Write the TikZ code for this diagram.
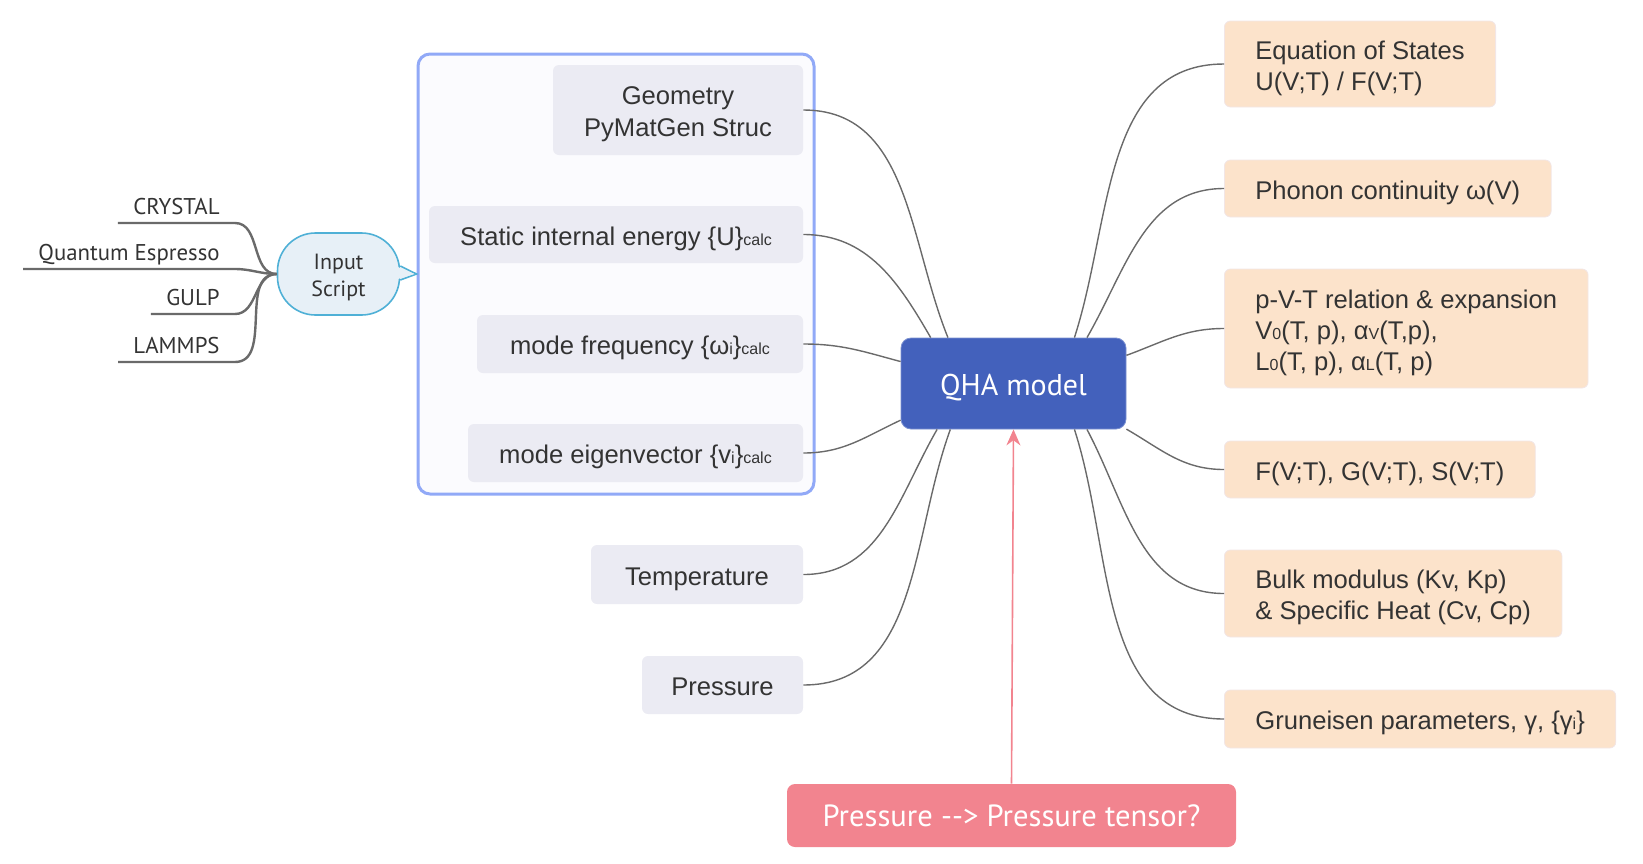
\documentclass[tikz,border=0pt]{standalone}
\usepackage{fontspec}
\setmainfont{Liberation Sans}
\newfontfamily\ptsans{PT Sans}
\usepackage{xcolor}
\usetikzlibrary{arrows.meta}

\definecolor{inkgray}{HTML}{333333}
\definecolor{linkgray}{HTML}{6A6A6A}
\definecolor{boxgray}{HTML}{EBEBF3}
\definecolor{grpfill}{HTML}{FBFBFE}
\definecolor{grpline}{HTML}{91A9F7}
\definecolor{qhablue}{HTML}{4361BC}
\definecolor{alertpink}{HTML}{F2848F}
\definecolor{peach}{HTML}{FCE3CB}
\definecolor{peachline}{HTML}{F2E6E6}
\definecolor{bubfill}{HTML}{E7F0F7}
\definecolor{bubline}{HTML}{4FB0D6}

\newcommand{\smallsub}[1]{{\fontsize{8pt}{8pt}\selectfont #1}}

\begin{document}
\begin{tikzpicture}[
    x=0.5pt, y=-0.5pt,
    group/.style={rectangle, draw=grpline, fill=grpfill, line width=1.5pt,
                  rounded corners=6pt, minimum width=198pt, minimum height=220pt},
    input/.style={rectangle, fill=boxgray, rounded corners=3pt,
                  execute at begin node={\rule[-3pt]{0pt}{16.5pt}},
                  align=center, text=inkgray, font=\fontsize{12.8pt}{16pt}\selectfont},
    result/.style={rectangle, fill=peach, draw=peachline, rounded corners=3pt,
                   anchor=west, align=left, inner xsep=15.5pt, text=inkgray,
                   execute at begin node={\rule[-3pt]{0pt}{16.5pt}},
                   font=\fontsize{12.8pt}{15.5pt}\selectfont},
    multi/.style={execute at begin node={}, text height=#1, text depth=3pt},
    multi/.default=29pt,
    model/.style={rectangle, fill=qhablue, draw=qhablue!70!white, rounded corners=5pt,
                  text=white, font=\ptsans\fontsize{15pt}{18pt}\selectfont,
                  text height=14.8pt, text depth=3pt,
                  minimum width=112.5pt, minimum height=45.5pt},
    note/.style={rectangle, fill=alertpink, rounded corners=4pt, text=white,
                 font=\ptsans\fontsize{15.3pt}{18pt}\selectfont,
                 minimum width=224.5pt, minimum height=31.5pt},
    bubble/.style={rectangle, draw=bubline, fill=bubfill, line width=0.8pt,
                   rounded corners=19pt, minimum width=61pt, minimum height=41pt,
                   text height=24.6pt, text depth=2.5pt,
                   align=center, text=inkgray, font=\ptsans\fontsize{11pt}{13.3pt}\selectfont},
    leaf/.style={anchor=south east, inner xsep=7.5pt, inner ysep=2pt, text depth=2pt,
                 text=inkgray, font=\ptsans\fontsize{11.4pt}{13pt}\selectfont},
    link/.style={draw=linkgray, line width=0.7pt},
    leafline/.style={draw=linkgray, line width=1.2pt},
    arrow/.style={draw=alertpink, line width=0.8pt, -{Stealth[length=8pt, width=7pt]}}
]
    \useasboundingbox (0,0) rectangle (1643,863);

    \node[group] (calc) at (616,274) {};

    \node[input, multi=29.5pt, minimum width=125pt, minimum height=45pt] (geom) at (678,110)
        {Geometry\\PyMatGen Struc};
    \node[input, minimum width=187pt, minimum height=28.5pt] (energy) at (616,234.5)
        {Static internal energy \{U\}\smallsub{calc}};
    \node[input, minimum width=163pt, minimum height=29pt] (freq) at (640,344)
        {mode frequency \{ω\smallsub{i}\}\smallsub{calc}};
    \node[input, minimum width=167.5pt, minimum height=29pt] (eigvec) at (635.5,453)
        {mode eigenvector \{v\smallsub{i}\}\smallsub{calc}};
    \node[input, minimum width=106pt, minimum height=29.5pt] (temp) at (697,574.5)
        {Temperature};
    \node[input, minimum width=80.5pt, minimum height=29pt] (press) at (722.5,685)
        {Pressure};

    \node[model] (qha) at (1013.5,383.5) {QHA model};
    \node[note] (tensor) at (1011.5,815.5) {Pressure --> Pressure tensor?};

    \node[result, multi, minimum height=43pt] (eos) at (1224,64)
        {Equation of States\\U(V;T) / F(V;T)};
    \node[result, minimum height=28.5pt] (phonon) at (1224,188.5)
        {Phonon continuity ω(V)};
    \node[result, multi=44.5pt, minimum height=59.5pt] (pvt) at (1224,328.5)
        {p-V-T relation \& expansion\\V\smallsub{0}(T, p), α\smallsub{V}(T,p),\\L\smallsub{0}(T, p), α\smallsub{L}(T, p)};
    \node[result, minimum height=28.5pt] (free) at (1224,469.5)
        {F(V;T), G(V;T), S(V;T)};
    \node[result, multi, minimum height=43.5pt] (bulk) at (1224,593.5)
        {Bulk modulus (Kv, Kp)\\\& Specific Heat (Cv, Cp)};
    \node[result, minimum height=29pt] (grun) at (1224,719)
        {Gruneisen parameters, γ, \{γ\smallsub{i}\}};

    \node[bubble] (script) at (338.5,274) {Input\\Script};
    \filldraw[draw=bubline, fill=bubfill, line width=0.8pt]
        ([yshift=4pt]script.east) -- (calc.west) -- ([yshift=-3pt]script.east);
    \fill[bubfill] ([yshift=3.6pt,xshift=-1.5pt]script.east) -- ([xshift=-1pt]calc.west)
        -- ([yshift=-2.6pt,xshift=-1.5pt]script.east) -- cycle;

    \node[leaf] (crystal) at (235,223) {CRYSTAL};
    \node[leaf] (qe) at (235,269) {Quantum Espresso};
    \node[leaf] (gulp) at (235,314) {GULP};
    \node[leaf] (lammps) at (235,362) {LAMMPS};

    \draw[leafline] (crystal.south west) -- (crystal.south east) to[out=0, in=180] (script.west);
    \draw[leafline] (qe.south west) -- (qe.south east) to[out=0, in=180] (script.west);
    \draw[leafline] (gulp.south west) -- (gulp.south east) to[out=0, in=180] (script.west);
    \draw[leafline] (lammps.south west) -- (lammps.south east) to[out=0, in=180] (script.west);

    \draw[link] (geom.east) to[out=0, in=112] (qha.145);
    \draw[link] (energy.east) to[out=0, in=120] (qha.151);
    \draw[link] (freq.east) to[out=0, in=165] (qha.169);
    \draw[link] (eigvec.east) to[out=0, in=205] (qha.198);
    \draw[link] (temp.east) to[out=0, in=240] (qha.211);
    \draw[link] (press.east) to[out=0, in=250] (qha.216);

    \draw[link] (qha.37) to[out=72, in=180] (eos.west);
    \draw[link] (qha.32) to[out=60, in=180] (phonon.west);
    \draw[link] (qha.14) to[out=20, in=180] (pvt.west);
    \draw[link] (qha.-22) to[out=-30, in=180] (free.west);
    \draw[link] (qha.-32) to[out=-62, in=180] (bulk.west);
    \draw[link] (qha.-37) to[out=-72, in=180] (grun.west);

    \draw[arrow] (tensor.north) -- (qha.south);
\end{tikzpicture}
\end{document}
